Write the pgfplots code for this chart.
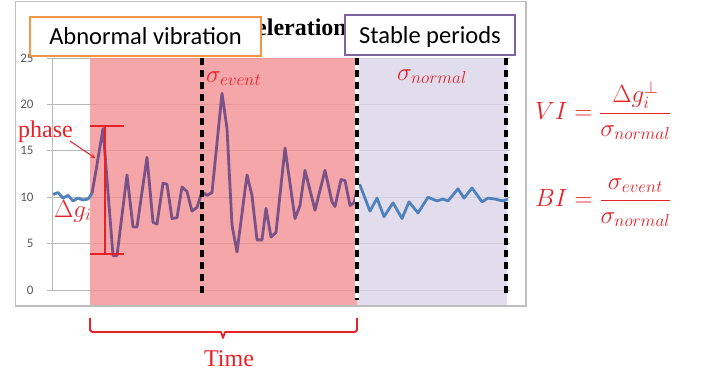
\documentclass[border=0pt]{standalone}
\usepackage{fontspec}
\setmainfont{Liberation Serif}
\newfontfamily\calibri{Carlito}
\usepackage{pgfplots}
\pgfplotsset{compat=1.18}
\definecolor{myred}{RGB}{232,32,40}
\definecolor{boxorange}{RGB}{242,150,70}
\definecolor{boxpurple}{RGB}{128,100,162}
\definecolor{pinkc}{RGB}{242,144,146}
\definecolor{lavc}{RGB}{217,213,231}
\definecolor{lineblue}{RGB}{79,129,189}
\definecolor{linepurple}{RGB}{122,82,136}
\definecolor{gridc}{RGB}{182,182,182}
\definecolor{framec}{RGB}{190,190,190}
\definecolor{ticktext}{RGB}{89,89,89}

\begin{document}
\begin{tikzpicture}
\useasboundingbox (0,0) rectangle (702pt,-376pt);
\begin{scope}[x=1pt,y=-1pt]
  \node[anchor=base east, inner sep=0pt, font=\bfseries\fontsize{24}{24}\selectfont] at (347,35) {Acceleration};
\end{scope}
\begin{axis}[
  at={(52pt,-290pt)}, anchor=south west,
  scale only axis, width=458pt, height=232pt,
  xmin=52, xmax=510, ymin=0, ymax=25,
  clip=false,
  axis x line=none,
  axis y line=left,
  y axis line style={draw=gridc, line width=1pt, -},
  ytick={0,5,10,15,20,25},
  ymajorgrids,
  major grid style={draw=gridc, line width=1pt},
  tick align=outside,
  major tick length=5pt,
  tick style={draw=gridc, line width=1pt},
  /pgf/number format/assume math mode=true,
  yticklabel style={font=\calibri\fontsize{13}{13}\selectfont, text=ticktext, xshift=-10pt},
]
\fill[pinkc, opacity=0.8] (axis cs:90,-1.72) rectangle (axis cs:357,25);
\fill[lavc, opacity=0.8] (axis cs:357,-1.72) rectangle (axis cs:507,25);
\addplot[lineblue, line width=2.8pt, line join=round] coordinates {
(53,10.3) (58,10.5) (63,9.9) (68,10.2) (73,9.6) (78,9.9) (83,9.7) (88,9.8) (92,10.4)
};
\addplot[linepurple, line width=2.8pt, line join=round] coordinates {
(92,10.4) (97,13.5) (103,17.4) (113,3.7) (117,3.7) (127,12.4) (133,6.8) (137,6.8)
(147,14.3) (153,7.3) (157,7.1) (163,11.5) (167,11.4) (172,7.7) (177,7.8) (182,11.1)
(187,10.6) (192,8.5) (197,8.9) (202,10.6) (207,10.2) (212,10.5) (222,21.2) (227,17.4)
(232,7.0) (237,4.1) (247,12.4) (252,10.2) (257,5.4) (262,5.4) (266,8.8) (271,5.7)
(276,6.2) (285,15.3) (295,7.7) (300,9.1) (305,12.9) (315,8.6) (325,12.9) (332,9.5)
(335,9.0) (341,11.9) (345,11.8) (350,9.1) (354,9.4) (358,11.2)
};
\addplot[lineblue, line width=2.8pt, line join=round] coordinates {
(358,11.2) (360,11.3) (370,8.5) (377,9.9) (384,7.9) (393,9.4) (402,7.7) (409,9.5)
(418,8.3) (428,10.0) (437,9.6) (443,9.8) (448,9.6) (458,10.9) (464,9.9) (472,11.0)
(482,9.5) (488,9.9) (495,9.8) (503,9.6) (508,9.8)
};
\end{axis}
\begin{scope}[x=1pt,y=-1pt]
  % chart frame
  \draw[framec, line width=1pt] (15,306) -- (15,1) -- (526,1);
  \draw[framec, line width=2pt] (15,306) -- (526,306) -- (526,1);
  % dashed separators
  \draw[white, line width=4pt] (357,58) -- (357,300);
  \draw[black, line width=3.6pt, dash pattern=on 7pt off 5pt] (202,58) -- (202,295);
  \draw[black, line width=3.6pt, dash pattern=on 7pt off 5pt] (357,58) -- (357,300);
  \draw[black, line width=3.6pt, dash pattern=on 7pt off 5pt] (506,58) -- (506,295);
  % boxes
  \draw[boxorange, line width=2pt, fill=white] (30,17) rectangle (261,56);
  \node[anchor=base, inner sep=0pt, font=\calibri\fontsize{24.5}{24.5}\selectfont] at (145.5,44) {Abnormal vibration};
  \draw[boxpurple, line width=2pt, fill=white] (345,15) rectangle (515,55);
  \node[anchor=base, inner sep=0pt, font=\calibri\fontsize{24.5}{24.5}\selectfont] at (430,43) {Stable periods};
  % sigma labels
  \node[anchor=base west, inner sep=0pt, text=myred, font=\fontsize{27}{27}\selectfont] at (206,82) {$\sigma_{event}$};
  \node[anchor=base west, inner sep=0pt, text=myred, font=\fontsize{27}{27}\selectfont] at (397,80) {$\sigma_{normal}$};
  % phase annotation
  \node[anchor=base west, inner sep=0pt, text=myred, font=\fontsize{24}{24}\selectfont] at (18,137) {phase};
  \draw[myred, line width=1pt, -stealth] (70,141) -- (95,158);
  \draw[myred, line width=2.5pt] (105,126) -- (105,254);
  \draw[myred, line width=2pt] (90,126) -- (124,126);
  \draw[myred, line width=2pt] (90,254) -- (124,254);
  \node[anchor=base west, inner sep=0pt, text=myred, font=\fontsize{27}{27}\selectfont] at (54,217) {$\Delta g_i$};
  % time bracket
  \draw[myred, line width=1.8pt, line join=round] (90,318) -- (90,330) -- (92,332) -- (221,332) -- (223,338) -- (225,332) -- (355,332) -- (357,330) -- (357,318);
  \node[anchor=base, inner sep=0pt, text=myred, font=\fontsize{24}{24}\selectfont] at (229,366) {Time};
  % formulas
  \node[anchor=base west, inner sep=0pt, text=myred, font=\fontsize{26.5}{26.5}\selectfont] at (535,119) {$\displaystyle VI=\frac{\Delta g_i^{\perp}}{\sigma_{normal}}$};
  \node[anchor=base west, inner sep=0pt, text=myred, font=\fontsize{26.5}{26.5}\selectfont] at (535,206) {$\displaystyle BI=\frac{\sigma_{event}}{\sigma_{normal}}$};
\end{scope}
\end{tikzpicture}
\end{document}
